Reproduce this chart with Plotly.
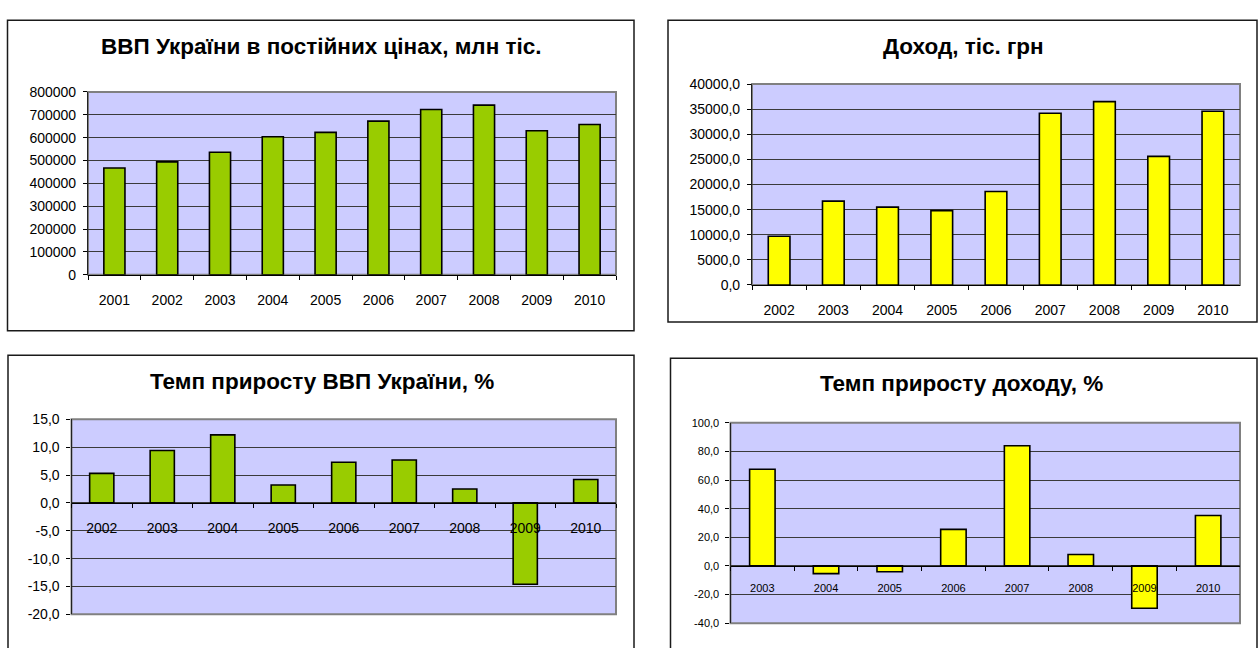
import plotly.graph_objects as go

# ---------------- data ----------------
years_gdp = ['2001', '2002', '2003', '2004', '2005', '2006', '2007', '2008', '2009', '2010']
gdp = [467000, 494000, 536000, 604000, 623000, 672000, 723000, 742000, 630000, 657000]

years_income = ['2002', '2003', '2004', '2005', '2006', '2007', '2008', '2009', '2010']
income = [9700, 16700, 15500, 14800, 18600, 34200, 36500, 25600, 34600]

years_gdp_growth = ['2002', '2003', '2004', '2005', '2006', '2007', '2008', '2009', '2010']
gdp_growth = [5.3, 9.4, 12.2, 3.2, 7.3, 7.7, 2.5, -14.6, 4.2]

years_income_growth = ['2003', '2004', '2005', '2006', '2007', '2008', '2009', '2010']
income_growth = [67.5, -5.4, -4.1, 25.5, 84.0, 8.0, -29.6, 35.2]

# y-axis tick values of the four charts
ticks_gdp = [0, 100000, 200000, 300000, 400000, 500000, 600000, 700000, 800000]
ticks_income = [0, 5000, 10000, 15000, 20000, 25000, 30000, 35000, 40000]
ticks_gdp_growth = [-20, -15, -10, -5, 0, 5, 10, 15]
ticks_income_growth = [-40, -20, 0, 20, 40, 60, 80, 100]

titles = ['ВВП України в постійних цінах, млн тіс.', 'Доход, тіс. грн',
          'Темп приросту ВВП України, %', 'Темп приросту доходу, %']

# ---------------- layout helpers ----------------
W, H = 1258, 648
FONT = 'Liberation Sans, Arial, sans-serif'
GREEN = '#99CC00'
YELLOW = '#FFFF00'
PLOTBG = '#CCCCFF'
GRID = '#3a3a3a'


def px(x):
    return x / W


def py(y):
    return 1 - y / H


def fmt_int(v):
    return str(int(v))


def fmt_dec(v):
    return f'{v:.1f}'.replace('.', ',')


# plot-area pixel boxes (left, top, right, bottom)
areas = [
    (88, 86, 616, 273.5),
    (752, 78, 1240, 284),
    (71.5, 421.7, 616, 621.7),
    (730.5, 425.3, 1240, 630.7),
]
# outer frames
frames = [
    (7.5, 12.5, 634, 331),
    (668, 12.5, 1257, 322),
    (8, 356, 634, 700),
    (670.5, 359, 1257, 700),
]
title_pos = [(321, 39), (963, 39), (322, 383), (962, 385)]
title_size = [22.5, 22.5, 22.5, 22.5]

ticks = [ticks_gdp, ticks_income, ticks_gdp_growth, ticks_income_growth]
fmts = [fmt_int, fmt_dec, fmt_dec, fmt_dec]
tick_font = [14, 14, 14, 11]
x_standoff = [12, 12, 12, 12]

series = [
    (years_gdp, gdp, GREEN),
    (years_income, income, YELLOW),
    (years_gdp_growth, gdp_growth, GREEN),
    (years_income_growth, income_growth, YELLOW),
]

fig = go.Figure()
layout = dict(
    width=W, height=H,
    margin=dict(l=0, r=0, t=0, b=0),
    paper_bgcolor='white',
    plot_bgcolor=PLOTBG,
    showlegend=False,
    font=dict(family=FONT, color='black'),
    shapes=[], annotations=[],
)

for i, (cats, vals, color) in enumerate(series):
    n = i + 1
    sx = '' if n == 1 else str(n)
    fig.add_trace(go.Bar(
        x=cats, y=vals, xaxis='x' + sx, yaxis='y' + sx,
        marker=dict(color=color, line=dict(color='black', width=1.6)),
        width=0.4,
    ))
    l, t, r, b = areas[i]
    ydom = [py(b), py(t)]
    tv = ticks[i]
    y0, y1 = tv[0], tv[-1]
    zero_pos = ydom[0] + (0 - y0) / (y1 - y0) * (ydom[1] - ydom[0])
    layout['xaxis' + sx] = dict(
        domain=[px(l), px(r)],
        anchor='free', position=zero_pos,
        type='category', range=[-0.5, len(cats) - 0.5],
        showline=True, linecolor='black', linewidth=1.2,
        ticks='outside', tickson='boundaries', ticklen=4, tickcolor='black',
        tickfont=dict(size=tick_font[i], family=FONT, color='black'),
        ticklabelstandoff=x_standoff[i],
        showgrid=False, fixedrange=True,
    )
    layout['yaxis' + sx] = dict(
        domain=ydom, anchor='x' + sx,
        range=[y0, y1], tickmode='array', tickvals=tv,
        ticktext=[fmts[i](v) for v in tv],
        showline=True, linecolor='#222', linewidth=1.2,
        ticks='outside', ticklen=4, tickcolor='black',
        tickfont=dict(size=tick_font[i], family=FONT, color='black'),
        ticklabelstandoff=4,
        showgrid=True, gridcolor=GRID, gridwidth=1,
        zeroline=False, fixedrange=True,
    )
    layout['shapes'].append(dict(
        type='rect', xref='paper', yref='paper',
        x0=px(l), x1=px(r), y0=py(b), y1=py(t),
        line=dict(color='#808080', width=2), layer='below', fillcolor=PLOTBG,
    ))
    fl, ft, fr, fb = frames[i]
    layout['shapes'].append(dict(
        type='rect', xref='paper', yref='paper',
        x0=px(fl), x1=px(fr), y0=py(fb), y1=py(ft),
        line=dict(color='#1a1a1a', width=1.5), layer='below',
    ))
    tx, ty = title_pos[i]
    layout['annotations'].append(dict(
        text='<b>' + titles[i] + '</b>', xref='paper', yref='paper',
        x=px(tx), y=py(ty), xanchor='center', yanchor='middle', showarrow=False,
        font=dict(size=title_size[i], family=FONT, color='black'),
    ))

fig.update_layout(**layout)
fig.write_html('out.html', config={'displayModeBar': False},
               post_script="document.body.style.margin='0';document.body.style.overflow='hidden';")
